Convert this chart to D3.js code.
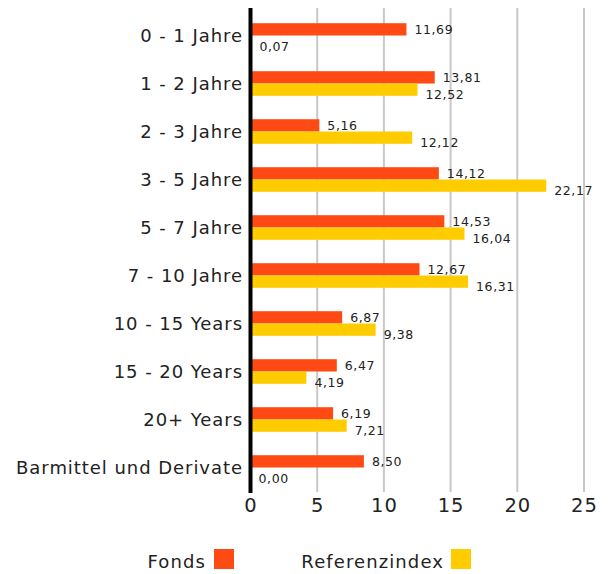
<!DOCTYPE html>
<html><head><meta charset="utf-8">
<script src="https://cdn.jsdelivr.net/npm/d3@7"></script>
<style>body{margin:0;background:#fff}svg{display:block}text{font-family:"DejaVu Sans",sans-serif;fill:#222}</style>
</head><body><svg id="c" width="608" height="574"></svg>
<script>
const categories = ["0 - 1 Jahre","1 - 2 Jahre","2 - 3 Jahre","3 - 5 Jahre","5 - 7 Jahre","7 - 10 Jahre","10 - 15 Years","15 - 20 Years","20+ Years","Barmittel und Derivate"];
const fonds = [11.69,13.81,5.16,14.12,14.53,12.67,6.87,6.47,6.19,8.50];
const referenz = [0.07,12.52,12.12,22.17,16.04,16.31,9.38,4.19,7.21,0.00];
const seriesNames = ["Fonds","Referenzindex"];
const xTicks = [0,5,10,15,20,25];

const colors = ["#FF4A14","#FFCC00"];
const svg = d3.select("#c");
const x = d3.scaleLinear().domain([0,25]).range([250.5,584]);
const y = d3.scaleBand().domain(categories).range([11.5,491.5]).padding(0);
const bh = 12.3;
const fmt = v => v.toFixed(2).replace(".", ",");

// grid
svg.append("g").selectAll("line").data(xTicks.filter(t=>t>0)).join("line")
  .attr("x1",d=>x(d)).attr("x2",d=>x(d)).attr("y1",8).attr("y2",492)
  .attr("stroke","#c8c8c8").attr("stroke-width",2);

const rows = svg.append("g").selectAll("g").data(categories).join("g")
  .attr("transform",d=>`translate(0,${y(d)+y.bandwidth()/2})`);

rows.append("rect").attr("x",x(0)).attr("y",-bh).attr("height",bh)
  .attr("width",(d,i)=>x(fonds[i])-x(0)).attr("fill",colors[0]);
rows.append("rect").attr("x",x(0)).attr("y",0).attr("height",bh)
  .attr("width",(d,i)=>x(referenz[i])-x(0)).attr("fill",colors[1]);

rows.append("text").attr("x",(d,i)=>x(fonds[i])+8).attr("y",-2)
  .attr("font-size",12.5).attr("letter-spacing",0.6).text((d,i)=>fmt(fonds[i]));
rows.append("text").attr("x",(d,i)=>x(referenz[i])+8).attr("y",15)
  .attr("font-size",12.5).attr("letter-spacing",0.6).text((d,i)=>fmt(referenz[i]));

rows.append("text").attr("x",243).attr("y",0).attr("dy","0.35em")
  .attr("text-anchor","end").attr("font-size",18).attr("letter-spacing",0.95).text(d=>d);

// zero axis line
svg.append("line").attr("x1",x(0)).attr("x2",x(0)).attr("y1",8).attr("y2",493)
  .attr("stroke","#000").attr("stroke-width",4);

// x axis ticks
const ax = svg.append("g").attr("transform","translate(0,505)")
  .call(d3.axisBottom(x).tickValues(xTicks).tickSize(0).tickPadding(0));
ax.select(".domain").remove();
ax.selectAll("text").attr("font-size",19.5).attr("dy","0.35em").attr("letter-spacing",1)
  .attr("font-family","'DejaVu Sans',sans-serif").attr("fill","#222");

// legend
const leg = svg.append("g");
const legX = [[206,214],[444,451]];
seriesNames.forEach((n,i)=>{
  leg.append("text").attr("x",legX[i][0]).attr("y",562).attr("dy","0.35em")
    .attr("text-anchor","end").attr("font-size",18).attr("letter-spacing",1.1).text(n);
  leg.append("rect").attr("x",legX[i][1]).attr("y",549).attr("width",20).attr("height",20).attr("fill",colors[i]);
});
</script></body></html>
